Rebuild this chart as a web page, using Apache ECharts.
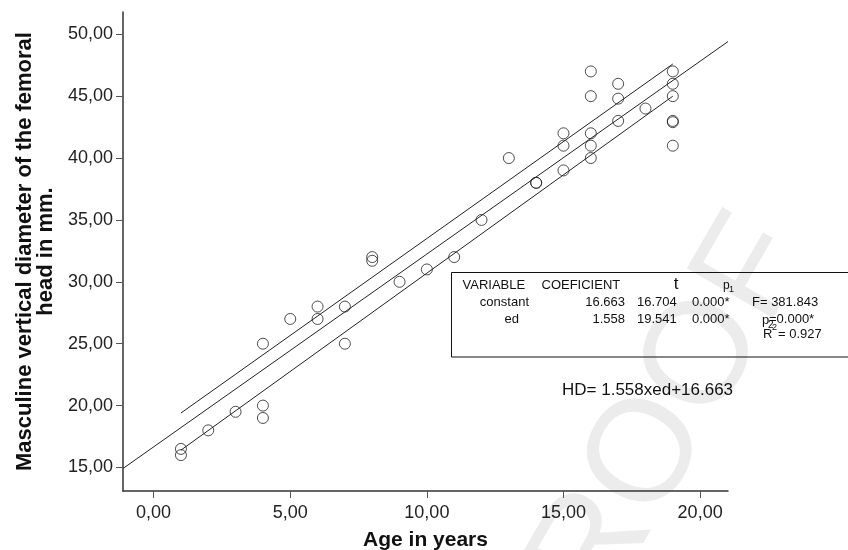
<!DOCTYPE html>
<html>
<head>
<meta charset="utf-8">
<script src="https://cdn.jsdelivr.net/npm/echarts@6/dist/echarts.min.js"></script>
<style>
  html, body { margin: 0; padding: 0; background: #ffffff; }
  #chart { width: 848px; height: 550px; }
</style>
</head>
<body>
<div id="chart"></div>
<script>
// Observations: age (years) and vertical femoral head diameter (mm)
const ages = [1, 1, 2, 3, 4, 4, 4, 5, 6, 6, 7, 7, 8, 8, 9, 10, 11, 12, 13, 14, 14,
              15, 15, 15, 16, 16, 16, 16, 16, 17, 17, 17, 18, 19, 19, 19, 19, 19, 19];
const diameters = [16.5, 16, 18, 19.5, 25, 20, 19, 27, 28, 27, 28, 25, 32, 31.7, 30, 31, 32, 35, 40, 38, 38,
                   42, 41, 39, 47, 45, 42, 41, 40, 46, 44.8, 43, 44, 47, 46, 45, 43, 42.9, 41];

// Fitted model HD = slope * ed + intercept
const slope = 1.558;
const intercept = 16.663;

// Confidence band end points
const bandAges = [1, 19];
const upperBand = [19.4, 47.6];
const lowerBand = [16.4, 45.0];

// Axis extents and tick values
const ageRange = [-1.12, 21.02];
const diameterRange = [13.1, 51.8];
const ageTicks = [0, 5, 10, 15, 20];
const diameterTicks = [15, 20, 25, 30, 35, 40, 45, 50];

// Regression table
const tableHeader = ['VARIABLE', 'COEFICIENT', 't', 'p'];
const tableRows = [
  ['constant', '16.663', '16.704', '0.000*'],
  ['ed', '1.558', '19.541', '0.000*']
];
const fStat = 'F= 381.843';
const pModel = '=0.000*';
const rSquared = '= 0.927';

const FONT = "'Liberation Sans', Arial, sans-serif";
const commaFmt = v => v.toFixed(2).replace('.', ',');

const points = ages.map((a, i) => [a, diameters[i]]);
const fitLine = ageRange.map(a => [a, intercept + slope * a]);
const upperLine = bandAges.map((a, i) => [a, upperBand[i]]);
const lowerLine = bandAges.map((a, i) => [a, lowerBand[i]]);

const txt = (text, x, y, size, align, extra) => Object.assign({
  type: 'text', x: x, y: y, z: 10,
  style: { text: text, font: size + 'px ' + FONT, fill: '#111', align: align || 'left', verticalAlign: 'middle' }
}, extra || {});

const rowY = [302, 319];
const graphics = [
  // faint watermark
  {
    type: 'text', x: 648, y: 455, z: -1, rotation: Math.PI / 3,
    style: { text: 'PROOF', font: '145px ' + FONT, fill: '#ececec', align: 'center', verticalAlign: 'middle' }
  },
  // table frame
  {
    type: 'rect', z: 10,
    shape: { x: 451.5, y: 272.5, width: 420, height: 84.5 },
    style: { fill: 'transparent', stroke: '#111', lineWidth: 1 }
  },
  txt(tableHeader[0], 462.5, 285, 13, 'left'),
  txt(tableHeader[1], 541.5, 285, 13, 'left'),
  txt(tableHeader[2], 676, 284, 17, 'center'),
  txt(tableHeader[3], 723, 286, 12, 'left'),
  txt('1', 729, 290, 9, 'left'),
  txt(fStat, 752, rowY[0], 13, 'left'),
  txt('p', 762, 320, 13, 'left'),
  txt('2', 768, 325, 10, 'left'),
  txt(pModel, 769, 319, 13, 'left'),
  txt('R', 763, 334, 13, 'left'),
  txt('2', 772, 328, 9, 'left'),
  txt(rSquared, 778, 334, 13, 'left'),
  // fitted equation
  txt('HD= ' + slope.toFixed(3) + 'xed+' + intercept.toFixed(3), 562, 390, 17, 'left')
];
tableRows.forEach((r, i) => {
  graphics.push(txt(r[0], i === 0 ? 529 : 519, rowY[i], 13, 'right'));
  graphics.push(txt(r[1], 625, rowY[i], 13, 'right'));
  graphics.push(txt(r[2], 637, rowY[i], 13, 'left'));
  graphics.push(txt(r[3], 692, rowY[i], 13, 'left'));
});

const chart = echarts.init(document.getElementById('chart'), null, { renderer: 'canvas' });
chart.setOption({
  animation: false,
  backgroundColor: '#ffffff',
  grid: { left: 123, right: 120, top: 12, bottom: 59, outerBoundsMode: 'none', containLabel: false },
  xAxis: {
    type: 'value',
    min: ageRange[0], max: ageRange[1],
    name: 'Age in years',
    nameLocation: 'middle',
    nameGap: 39,
    nameTextStyle: { fontFamily: FONT, fontWeight: 'bold', fontSize: 21, color: '#111' },
    axisLine: { show: true, onZero: false, lineStyle: { color: '#333', width: 1.5 } },
    axisTick: { show: true, customValues: ageTicks, length: 7, lineStyle: { color: '#555', width: 1 } },
    axisLabel: { customValues: ageTicks, formatter: commaFmt, margin: 13, fontFamily: FONT, fontSize: 18, color: '#222' },
    splitLine: { show: false }
  },
  yAxis: {
    type: 'value',
    min: diameterRange[0], max: diameterRange[1],
    name: 'Masculine vertical diameter of the femoral\nhead in mm.',
    nameLocation: 'middle',
    nameRotate: 90,
    nameGap: 57,
    nameTextStyle: { fontFamily: FONT, fontWeight: 'bold', fontSize: 22, lineHeight: 21, color: '#111', align: 'center' },
    axisLine: { show: true, onZero: false, lineStyle: { color: '#333', width: 1.5 } },
    axisTick: { show: true, customValues: diameterTicks, length: 7, lineStyle: { color: '#555', width: 1 } },
    axisLabel: { customValues: diameterTicks, formatter: commaFmt, margin: 10, fontFamily: FONT, fontSize: 18, color: '#222' },
    splitLine: { show: false }
  },
  series: [
    {
      type: 'line', data: fitLine, symbol: 'none', z: 3,
      lineStyle: { color: '#222', width: 1 }
    },
    {
      type: 'line', data: upperLine, symbol: 'none', z: 3,
      lineStyle: { color: '#222', width: 1 }
    },
    {
      type: 'line', data: lowerLine, symbol: 'none', z: 3,
      lineStyle: { color: '#222', width: 1 }
    },
    {
      type: 'scatter', data: points, symbol: 'circle', symbolSize: 11, z: 4,
      itemStyle: { color: 'transparent', borderColor: '#222', borderWidth: 1 }
    }
  ],
  graphic: graphics
});
</script>
</body>
</html>
